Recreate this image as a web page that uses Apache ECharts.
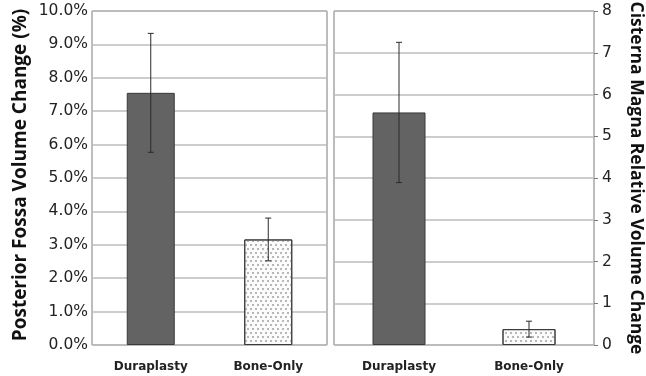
<!DOCTYPE html>
<html><head><meta charset="utf-8">
<script src="https://cdn.jsdelivr.net/npm/echarts@6/dist/echarts.min.js"></script>
<style>html,body{margin:0;padding:0;background:#fff}#c{width:646px;height:376px}</style></head>
<body><div id="c"></div><script>
const categories = ['Duraplasty', 'Bone-Only'];
const fossaValues = [7.55, 3.16];
const fossaErrors = [1.78, 0.64];
const cisternaValues = [5.57, 0.38];
const cisternaErrors = [1.68, 0.19];

const tickFont = 'DejaVu Sans';
const titleFont = 'Open Sans';
const darkStyle = { color: '#636363', borderColor: '#3a3a3a', borderWidth: 1 };
const lightStyle = {
  color: '#fbfbfb', borderColor: '#3a3a3a', borderWidth: 1,
  decal: { symbol: 'circle', symbolSize: 1, color: '#a0a0a0', dashArrayX: [[1.3, 2.7], [0, 2, 1.3, 0.7]], dashArrayY: [1.3, 1.7] }
};

function errData(vals, errs) { return vals.map((v, i) => [i, v, errs[i]]); }
function renderErr(params, api) {
  const x = api.value(0), v = api.value(1), e = api.value(2);
  const t = api.coord([x, v + e]), b = api.coord([x, v - e]);
  const st = { stroke: '#2a2a2a', lineWidth: 1 };
  const c = 3;
  return { type: 'group', children: [
    { type: 'line', shape: { x1: t[0], y1: t[1], x2: b[0], y2: b[1] }, style: st },
    { type: 'line', shape: { x1: t[0] - c, y1: t[1], x2: t[0] + c, y2: t[1] }, style: st },
    { type: 'line', shape: { x1: b[0] - c, y1: b[1], x2: b[0] + c, y2: b[1] }, style: st }
  ]};
}

const catAxis = (gi) => ({
  type: 'category', gridIndex: gi, data: categories,
  axisTick: { show: false }, axisLine: { show: false },
  axisLabel: { fontFamily: tickFont, fontWeight: 'bold', fontSize: 12, color: '#222', margin: 16 }
});

const chart = echarts.init(document.getElementById('c'), null, { renderer: 'canvas' });
chart.setOption({
  animation: false,
  backgroundColor: '#fff',
  grid: [
    { left: 92, right: 319, top: 11, bottom: 31, show: true, borderColor: '#7a7a7a', borderWidth: 1, backgroundColor: 'transparent', outerBoundsMode: 'none', containLabel: false },
    { left: 334, right: 52, top: 11, bottom: 31, show: true, borderColor: '#7a7a7a', borderWidth: 1, backgroundColor: 'transparent', outerBoundsMode: 'none', containLabel: false }
  ],
  xAxis: [catAxis(0), catAxis(1)],
  yAxis: [
    { type: 'value', gridIndex: 0, min: 0, max: 10, interval: 1,
      axisLine: { show: false }, axisTick: { show: false },
      splitLine: { lineStyle: { color: '#bdbdbd', width: 1.5 } },
      axisLabel: { fontFamily: tickFont, fontSize: 15.5, color: '#222', margin: 4, formatter: v => v.toFixed(1) + '%' },
      name: 'Posterior Fossa Volume Change (%)', nameLocation: 'middle', nameGap: 62, nameRotate: 90,
      nameTextStyle: { fontFamily: titleFont, fontWeight: 'bold', fontSize: 19, color: '#111', padding: [0, 0, 0, 6] } },
    { type: 'value', gridIndex: 1, position: 'right', min: 0, max: 8, interval: 1,
      axisLine: { show: false }, axisTick: { show: true, length: 4, lineStyle: { color: '#7a7a7a' } },
      splitLine: { lineStyle: { color: '#bdbdbd', width: 1.5 } },
      axisLabel: { fontFamily: tickFont, fontSize: 15.5, color: '#222', margin: 8 },
      name: 'Cisterna Magna Relative Volume Change', nameLocation: 'middle', nameGap: 33, nameRotate: -90,
      nameTextStyle: { fontFamily: titleFont, fontWeight: 'bold', fontSize: 17.5, color: '#111' } }
  ],
  series: [
    { type: 'bar', xAxisIndex: 0, yAxisIndex: 0, barWidth: 48,
      data: fossaValues.map((v, i) => ({ value: v, itemStyle: i === 0 ? darkStyle : lightStyle })) },
    { type: 'custom', xAxisIndex: 0, yAxisIndex: 0, renderItem: renderErr, data: errData(fossaValues, fossaErrors), z: 5 },
    { type: 'bar', xAxisIndex: 1, yAxisIndex: 1, barWidth: 53,
      data: cisternaValues.map((v, i) => ({ value: v, itemStyle: i === 0 ? darkStyle : lightStyle })) },
    { type: 'custom', xAxisIndex: 1, yAxisIndex: 1, renderItem: renderErr, data: errData(cisternaValues, cisternaErrors), z: 5 }
  ]
});
</script></body></html>
